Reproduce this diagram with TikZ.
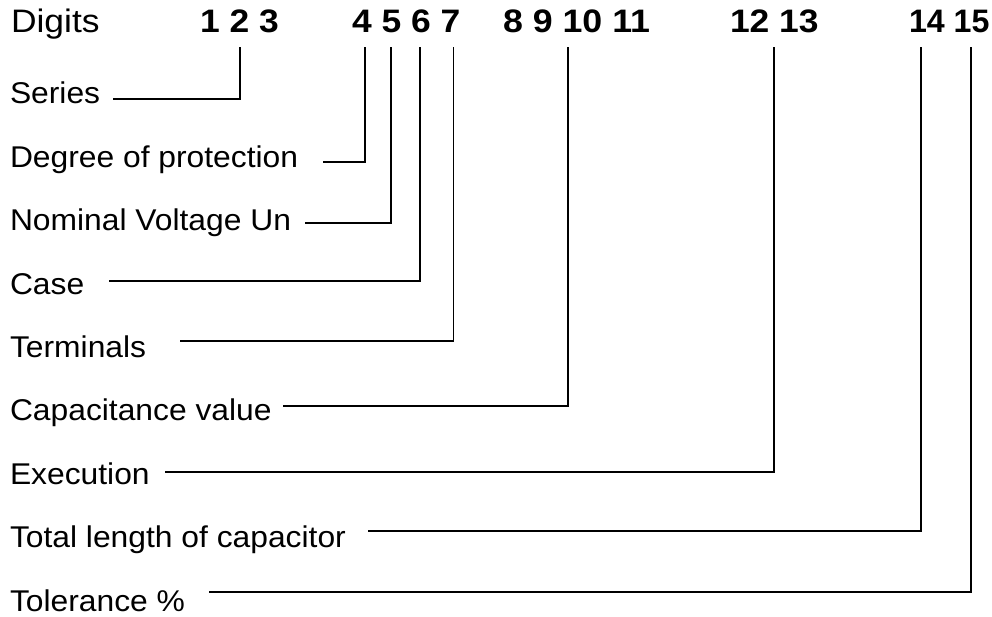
\documentclass[tikz,border=0pt]{standalone}
\usepackage{fontspec}
\setmainfont{Liberation Sans}
\newcommand{\lbltext}[1]{\scalebox{1.06}[1]{\fontsize{30}{32}\selectfont #1}}
\newcommand{\hdtext}[2][1.09]{\scalebox{#1}[1]{\fontsize{32.5}{34}\selectfont #2}}
\begin{document}
\begin{tikzpicture}[x=1pt,y=-1pt,
  lbl/.style={anchor=base west,inner sep=0pt,outer sep=0pt},
  hd/.style={anchor=base west,inner sep=0pt,outer sep=0pt},
  conn/.style={line width=1.7pt,line join=miter}]
\useasboundingbox (0,0) rectangle (992,616);
% heading
\node[hd] (digits) at (11,32.7) {\hdtext{Digits}};
\node[hd] (g1) at (200,32.7) {\hdtext{\bfseries 1 2 3}};
\node[hd] (g2) at (352,32.7) {\hdtext{\bfseries 4 5 6 7}};
\node[hd] (g3) at (503,32.7) {\hdtext[1.1]{\bfseries 8 9 10 11}};
\node[hd] (g4) at (730,32.7) {\hdtext{\bfseries 12 13}};
\node[hd] (g5) at (909,32.7) {\hdtext[0.99]{\bfseries 14 15}};
% labels
\node[lbl] (series) at (10,103.9) {\lbltext{Series}};
\node[lbl] (degree) at (10,167.3) {\lbltext{Degree of protection}};
\node[lbl] (nominal) at (10,230.7) {\lbltext{Nominal Voltage Un}};
\node[lbl] (case) at (10,294.1) {\lbltext{Case}};
\node[lbl] (term) at (10,357.5) {\lbltext{Terminals}};
\node[lbl] (cap) at (10,420.9) {\lbltext{Capacitance value}};
\node[lbl] (exec) at (10,484.3) {\lbltext{Execution}};
\node[lbl] (total) at (10,547.7) {\lbltext{Total length of capacitor}};
\node[lbl] (tol) at (10,611.1) {\lbltext{Tolerance \%}};
% connector ends
\coordinate (t2) at (240,47);   \coordinate (e2) at (113,99);
\coordinate (t4) at (365,47);   \coordinate (e4) at (323,162.3);
\coordinate (t5) at (391,47);   \coordinate (e5) at (305,222.7);
\coordinate (t6) at (420,47);   \coordinate (e6) at (109,281);
\coordinate (t7) at (453.5,47); \coordinate (e7) at (180,340.7);
\coordinate (t10) at (568,47);  \coordinate (e10) at (283,405.7);
\coordinate (t12) at (774,47);  \coordinate (e12) at (165,472.3);
\coordinate (t14) at (921,47);  \coordinate (e14) at (368,530.7);
\coordinate (t15) at (971,47);  \coordinate (e15) at (209,592.3);
% connectors
\foreach \k in {2,4,5,6,7,10,12,14,15}{
  \draw[conn] (t\k) |- (e\k);
}
\end{tikzpicture}
\end{document}
